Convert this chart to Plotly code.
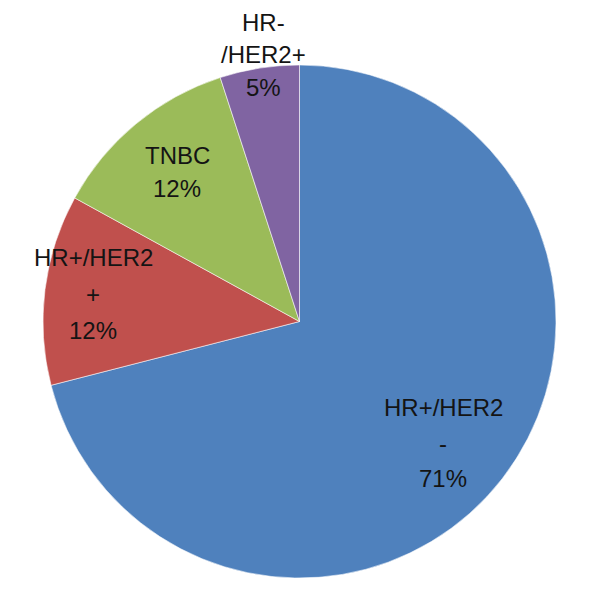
import plotly.graph_objects as go

labels = ["HR+/HER2-", "HR+/HER2+", "TNBC", "HR-/HER2+"]
values = [71, 12, 12, 5]
colors = ["#4F81BD", "#C0504D", "#9BBB59", "#8064A2"]

# label line splits (as in the reference)
label_lines = [["HR+/HER2", "-"], ["HR+/HER2", "+"], ["TNBC"], ["HR-", "/HER2+"]]
# label placement in screen pixels (x center, y of first line, line gap), style
label_pos = [(443, 407, 36), (93, 258, 36), (177, 155, 34), (263, 22, 33)]
OFF = 8  # page body margin offset

W, H = 609, 593

fig = go.Figure(go.Pie(
    labels=labels, values=values, sort=False, direction="clockwise", rotation=0,
    marker=dict(colors=colors, line=dict(color="rgba(255,255,255,0.55)", width=1)),
    textinfo="none", hoverinfo="label+percent", showlegend=False,
    domain=dict(x=[(42 - OFF) / W, (557 - OFF) / W],
                y=[1 - (578 - OFF) / H, 1 - (65 - OFF) / H]),
))

annotations = []
for lines, v, (px, py, gap) in zip(label_lines, values, label_pos):
    for i, t in enumerate(lines + [f"{v}%"]):
        annotations.append(dict(
            x=(px - OFF) / W, y=1 - (py - OFF + i * gap) / H,
            xref="paper", yref="paper",
            text=t, showarrow=False, xanchor="center", yanchor="middle",
            font=dict(family="Liberation Sans", size=24, color="#141414"),
        ))

fig.update_layout(
    width=W, height=H, margin=dict(l=0, r=0, t=0, b=0),
    paper_bgcolor="white", plot_bgcolor="white", annotations=annotations,
)
fig.write_html("out.html")
